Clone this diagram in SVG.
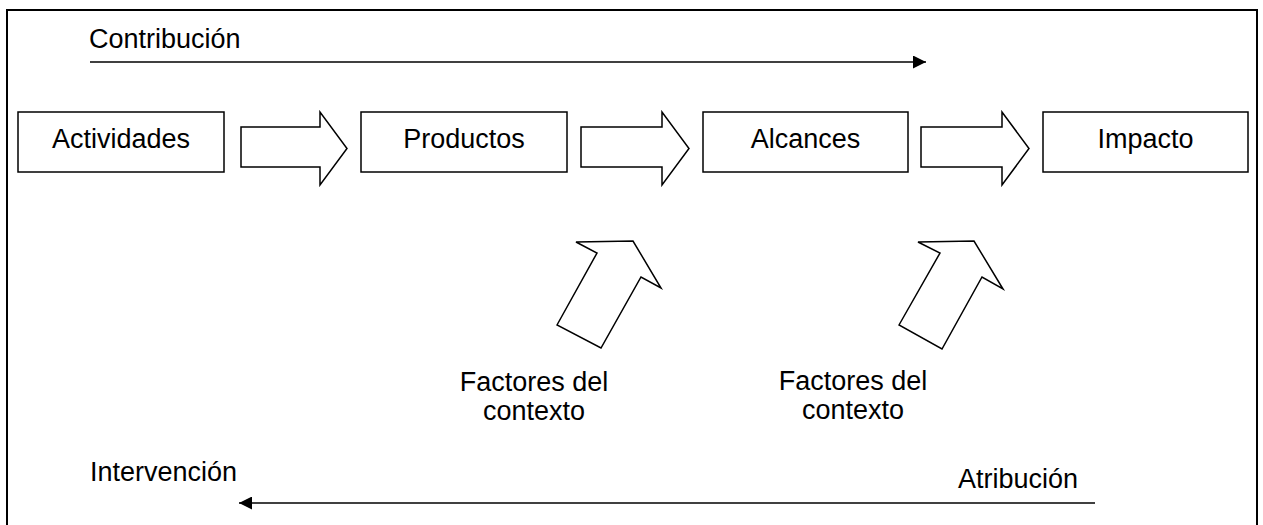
<svg xmlns="http://www.w3.org/2000/svg" width="1263" height="525" viewBox="0 0 1263 525">
<style>
.box{fill:#fff;stroke:#000;stroke-width:1.5}
.blk{fill:#fff;stroke:#000;stroke-width:1.5;stroke-linejoin:miter}
.t{font-family:"Liberation Sans",Arial,sans-serif;font-size:27px;fill:#000}
.ln{stroke:#000;stroke-width:1.5;fill:none}
</style>
<defs>
<marker id="ah" viewBox="0 0 10 10" refX="10" refY="5" markerWidth="17" markerHeight="13" markerUnits="userSpaceOnUse" orient="auto">
<path d="M0,0 L10,5 L0,10 Z" fill="#000"/>
</marker>
</defs>
<rect x="7" y="10" width="1250" height="530" fill="#fff" stroke="#000" stroke-width="2"/>
<g id="connectors">
<line class="ln" x1="90" y1="62" x2="926" y2="62" marker-end="url(#ah)"/>
<line class="ln" x1="1095" y1="503" x2="239" y2="503" marker-end="url(#ah)"/>
<polygon class="blk" points="241,127 320,127 320,112 347,148.5 320,185 320,167 241,167"/>
<polygon class="blk" points="581,127 662,127 662,112 689,148.5 662,185 662,167 581,167"/>
<polygon class="blk" points="921,127 1002,127 1002,112 1029,148.5 1002,185 1002,167 921,167"/>
<polygon class="blk" points="557,325 597,253 576,242 633,241 661,288 641,277 601,348"/>
<polygon class="blk" points="899,325 940,253 918,242 974,241 1003,289 982,277 942,349"/>
</g>
<g id="contribucion"><text class="t" x="89" y="48">Contribución</text></g>
<g id="actividades"><rect class="box" x="18" y="112" width="206" height="60"/><text class="t" x="121" y="148" text-anchor="middle">Actividades</text></g>
<g id="productos"><rect class="box" x="361" y="112" width="206" height="60"/><text class="t" x="464" y="148" text-anchor="middle">Productos</text></g>
<g id="alcances"><rect class="box" x="703" y="112" width="205" height="60"/><text class="t" x="805.5" y="148" text-anchor="middle">Alcances</text></g>
<g id="impacto"><rect class="box" x="1043" y="112" width="205" height="60"/><text class="t" x="1145.5" y="148" text-anchor="middle">Impacto</text></g>
<g id="factores1"><text class="t" x="534" y="391" text-anchor="middle">Factores del</text><text class="t" x="534" y="420" text-anchor="middle">contexto</text></g>
<g id="factores2"><text class="t" x="853" y="390" text-anchor="middle">Factores del</text><text class="t" x="853" y="419" text-anchor="middle">contexto</text></g>
<g id="intervencion"><text class="t" x="90" y="481">Intervención</text></g>
<g id="atribucion"><text class="t" x="958" y="488">Atribución</text></g>
</svg>
